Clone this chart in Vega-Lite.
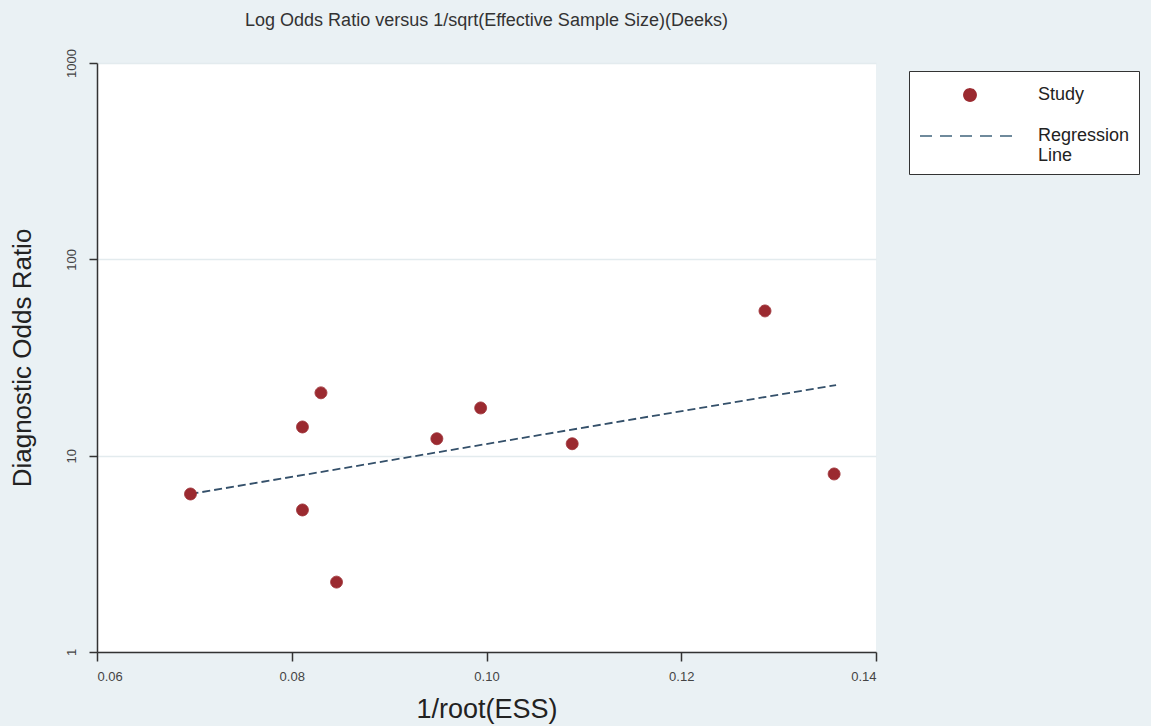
{
  "$schema": "https://vega.github.io/schema/vega-lite/v6.json",
  "width": 779,
  "height": 589,
  "autosize": {"type": "none"},
  "padding": {"left": 97, "top": 63, "right": 275, "bottom": 74},
  "background": "#eaf1f4",
  "config": {
    "view": {"fill": "white", "stroke": null},
    "font": "Liberation Sans",
    "legend": {
      "orient": "none",
      "legendX": 812,
      "legendY": 8,
      "padding": 9,
      "strokeColor": "#333333",
      "fillColor": "white",
      "clipHeight": 30,
      "rowPadding": 11,
      "symbolOffset": 1,
      "symbolStrokeWidth": 2,
      "labelOffset": 17,
      "labelFontSize": 18,
      "labelColor": "#222222",
      "labelFont": "Liberation Sans"
    }
  },
  "title": {
    "text": "Log Odds Ratio versus 1/sqrt(Effective Sample Size)(Deeks)",
    "fontSize": 18,
    "fontWeight": "normal",
    "color": "#333333",
    "anchor": "middle",
    "offset": 19,
    "font": "Liberation Sans"
  },
  "datasets": {
    "studies": [
      {"ess": 0.0696, "dor": 6.38, "series": "Study"},
      {"ess": 0.0811, "dor": 14.0, "series": "Study"},
      {"ess": 0.0830, "dor": 20.9, "series": "Study"},
      {"ess": 0.0811, "dor": 5.29, "series": "Study"},
      {"ess": 0.0846, "dor": 2.27, "series": "Study"},
      {"ess": 0.0949, "dor": 12.2, "series": "Study"},
      {"ess": 0.0994, "dor": 17.5, "series": "Study"},
      {"ess": 0.1088, "dor": 11.5, "series": "Study"},
      {"ess": 0.1286, "dor": 54.6, "series": "Study"},
      {"ess": 0.1357, "dor": 8.07, "series": "Study"}
    ],
    "regression": [
      {"ess": 0.0696, "dor": 6.38, "series": "Regression Line"},
      {"ess": 0.1359, "dor": 22.9, "series": "Regression Line"}
    ]
  },
  "layer": [
    {
      "data": {"name": "regression"},
      "mark": {"type": "line", "color": "#34506a", "strokeWidth": 1.8, "strokeDash": [8, 4]},
      "encoding": {
        "x": {"field": "ess", "type": "quantitative"},
        "y": {"field": "dor", "type": "quantitative"}
      }
    },
    {
      "data": {"name": "studies"},
      "mark": {"type": "point", "filled": true, "opacity": 1, "strokeWidth": 1},
      "encoding": {
        "x": {
          "field": "ess",
          "type": "quantitative",
          "scale": {"domain": [0.06, 0.14], "nice": false, "zero": false},
          "axis": {
            "title": "1/root(ESS)",
            "values": [0.06, 0.08, 0.10, 0.12, 0.14],
            "format": ".2f",
            "grid": false,
            "domainColor": "#333333",
            "domainWidth": 1.5,
            "tickColor": "#333333",
            "tickWidth": 1.5,
            "tickSize": 9,
            "labelFontSize": 13,
            "labelColor": "#444444",
            "labelPadding": 9,
            "titleFontSize": 27,
            "titleFontWeight": "normal",
            "titleColor": "#222222",
            "titlePadding": 13
          }
        },
        "y": {
          "field": "dor",
          "type": "quantitative",
          "scale": {"type": "log", "domain": [1, 1000], "nice": false},
          "axis": {
            "title": "Diagnostic Odds Ratio",
            "values": [1, 10, 100, 1000],
            "format": "d",
            "grid": true,
            "gridColor": "#e3ebee",
            "gridWidth": 1.5,
            "domainColor": "#333333",
            "domainWidth": 1.5,
            "tickColor": "#333333",
            "tickWidth": 1.5,
            "tickSize": 8,
            "labelAngle": 270,
            "labelAlign": "center",
            "labelBaseline": "bottom",
            "labelFontSize": 13,
            "labelColor": "#444444",
            "labelPadding": 11,
            "titleFontSize": 26,
            "titleFontWeight": "normal",
            "titleColor": "#222222",
            "titlePadding": 30
          }
        },
        "color": {
          "field": "series",
          "type": "nominal",
          "scale": {"domain": ["Study", "Regression Line"], "range": ["#9b2a30", "#6f8a9c"]},
          "legend": {"title": null, "labelExpr": "datum.label == 'Regression Line' ? ['Regression', 'Line'] : datum.label"}
        },
        "stroke": {
          "field": "series",
          "type": "nominal",
          "scale": {"domain": ["Study", "Regression Line"], "range": ["#9b2a30", "#6f8a9c"]},
          "legend": {"title": null, "labelExpr": "datum.label == 'Regression Line' ? ['Regression', 'Line'] : datum.label"}
        },
        "shape": {
          "field": "series",
          "type": "nominal",
          "scale": {"domain": ["Study", "Regression Line"], "range": ["circle", "stroke"]},
          "legend": {"title": null, "labelExpr": "datum.label == 'Regression Line' ? ['Regression', 'Line'] : datum.label"}
        },
        "size": {
          "field": "series",
          "type": "nominal",
          "scale": {"domain": ["Study", "Regression Line"], "range": [140, 10000]},
          "legend": {"title": null, "labelExpr": "datum.label == 'Regression Line' ? ['Regression', 'Line'] : datum.label"}
        },
        "strokeDash": {
          "field": "series",
          "type": "nominal",
          "scale": {"domain": ["Study", "Regression Line"], "range": [[1, 0], [12, 8]]},
          "legend": {"title": null, "labelExpr": "datum.label == 'Regression Line' ? ['Regression', 'Line'] : datum.label"}
        }
      }
    }
  ]
}
